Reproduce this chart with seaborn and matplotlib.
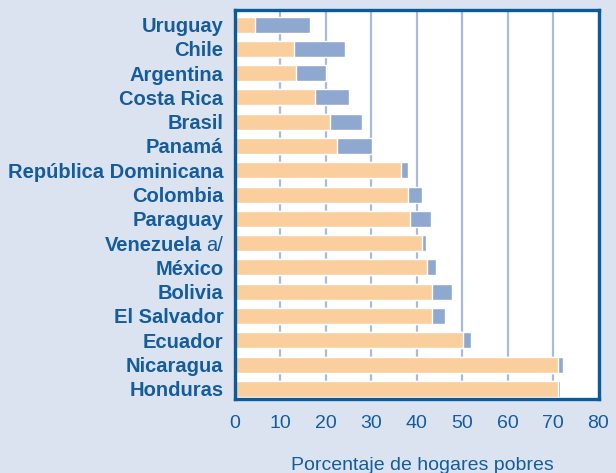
import matplotlib
matplotlib.use("Agg")
import matplotlib.pyplot as plt
import matplotlib.transforms as mtransforms
import seaborn as sns
import pandas as pd

countries = ["Uruguay", "Chile", "Argentina", "Costa Rica", "Brasil", "Panamá",
             "República Dominicana", "Colombia", "Paraguay", "Venezuela", "México",
             "Bolivia", "El Salvador", "Ecuador", "Nicaragua", "Honduras"]
orange_vals = [4.6, 13.0, 13.6, 17.8, 20.9, 22.6, 36.5, 38.2, 38.5, 41.1, 42.4,
               43.3, 43.5, 50.3, 71.0, 71.2]
blue_vals = [16.5, 24.2, 20.2, 25.1, 28.1, 30.3, 38.1, 41.3, 43.1, 42.1, 44.2,
             47.9, 46.2, 51.9, 72.3, 71.6]
xticks = [0, 10, 20, 30, 40, 50, 60, 70, 80]
xlabel = "Porcentaje de hogares pobres"

BG = "#DCE3F0"
ORANGE = "#FBCF9D"
BLUE = "#8FA8D0"
FRAME = "#0B5A9C"
TEXT = "#145C9C"
GRID = "#A9BBDB"

sns.set_theme(style="white")
plt.rcParams['font.family'] = ['Liberation Sans', 'DejaVu Sans']

df = pd.DataFrame({"country": countries, "orange": orange_vals, "blue": blue_vals})

fig = plt.figure(figsize=(6.16, 4.73), dpi=100, facecolor=BG)
ax = fig.add_axes([234.5 / 616, 1 - 399 / 473, 364 / 616, 388.5 / 473])
ax.set_facecolor("white")

sns.barplot(data=df, y="country", x="blue", color=BLUE, orient="h", width=0.66,
            saturation=1, ax=ax, zorder=2)
sns.barplot(data=df, y="country", x="orange", color=ORANGE, orient="h", width=0.66,
            saturation=1, ax=ax, zorder=3)

ax.set_xlim(0, 80)
ax.set_ylim(15.42, -0.58)
ax.set_xticks(xticks)
ax.set_xticklabels([str(t) for t in xticks])
ax.xaxis.grid(True, color=GRID, linewidth=1.6, zorder=0)
ax.set_axisbelow(True)
ax.set_xlabel("")
ax.set_ylabel("")
ax.tick_params(axis="both", length=0)
ax.tick_params(axis="x", labelsize=14, labelcolor=TEXT, pad=11.5)
ax.tick_params(axis="y", labelsize=14.5, labelcolor=TEXT, pad=8)
for lbl in ax.get_yticklabels():
    lbl.set_fontweight("bold")

for sp in ax.spines.values():
    sp.set_visible(True)
    sp.set_color(FRAME)
    sp.set_linewidth(2.4)
    sp.set_zorder(5)

# "a/" suffix for Venezuela in regular weight
vidx = countries.index("Venezuela")
trans = mtransforms.blended_transform_factory(ax.transAxes, ax.transData)
pad_pts = 8
off = mtransforms.ScaledTranslation(-pad_pts / 72, 0, fig.dpi_scale_trans)
atxt = ax.text(0, vidx, "a/", transform=trans + off, ha="right", va="center_baseline",
               fontsize=14.5, color=TEXT)
fig.canvas.draw()
r = fig.canvas.get_renderer()
w = atxt.get_window_extent(r).width + 4
vl = ax.get_yticklabels()[vidx]
vl.set_transform(vl.get_transform() + mtransforms.ScaledTranslation(-w / fig.dpi, 0, fig.dpi_scale_trans))

fig.text(422 / 616, 3 / 473, xlabel, ha="center", va="baseline", fontsize=14, color=TEXT)

fig.savefig("out.png", dpi=100, facecolor=BG)
